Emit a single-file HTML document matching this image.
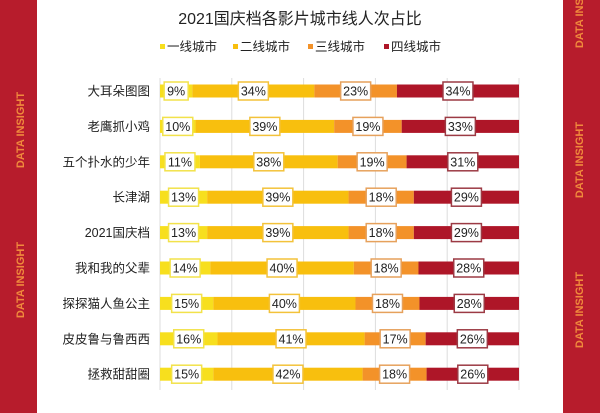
<!DOCTYPE html>
<html><head><meta charset="utf-8"><style>
body{margin:0;width:600px;height:413px;background:#fff;overflow:hidden;font-family:"Liberation Sans","Noto Sans CJK SC",sans-serif;}
</style></head><body>
<svg id="c" width="600" height="413" style="position:absolute;left:0;top:0">
<rect x="0" y="0" width="37" height="413" fill="#b71c2c"/>
<rect x="563" y="0" width="37" height="413" fill="#b71c2c"/>
<text transform="translate(24,130) rotate(-90)" fill="#f08a3c" font-size="11" font-weight="bold" text-anchor="middle">DATA INSIGHT</text>
<text transform="translate(24,280) rotate(-90)" fill="#f08a3c" font-size="11" font-weight="bold" text-anchor="middle">DATA INSIGHT</text>
<text transform="translate(583,10) rotate(-90)" fill="#f08a3c" font-size="11" font-weight="bold" text-anchor="middle">DATA INSIGHT</text>
<text transform="translate(583,160) rotate(-90)" fill="#f08a3c" font-size="11" font-weight="bold" text-anchor="middle">DATA INSIGHT</text>
<text transform="translate(583,310) rotate(-90)" fill="#f08a3c" font-size="11" font-weight="bold" text-anchor="middle">DATA INSIGHT</text>
<text x="300" y="24" font-size="16" text-anchor="middle" fill="#222">2021国庆档各影片城市线人次占比</text>
<g id="legend"></g>
<g id="grid"></g>
<g id="bars"></g>
</svg>
<script>
const categories=["大耳朵图图","老鹰抓小鸡","五个扑水的少年","长津湖","2021国庆档","我和我的父辈","探探猫人鱼公主","皮皮鲁与鲁西西","拯救甜甜圈"];
const series=["一线城市","二线城市","三线城市","四线城市"];
const tier1=[9,10,11,13,13,14,15,16,15];
const tier2=[34,39,38,39,39,40,40,41,42];
const tier3=[23,19,19,18,18,18,18,17,18];
const tier4=[34,33,31,29,29,28,28,26,26];
const ticks=[0,20,40,60,80,100];
const colors=["#f7df1e","#f8bf0e","#f39229","#ae1628"];
const borders=["#f2e24a","#f3c23a","#e6a15c","#9c3a44"];
const NS="http://www.w3.org/2000/svg";
const x0=160,x1=519,yTop=80,rowH=35.4,barH=13;
const xs=v=>x0+(x1-x0)*v/100;
const ys=i=>yTop+11+i*rowH;
function mk(t,a,p){const e=document.createElementNS(NS,t);for(const k in a)e.setAttribute(k,a[k]);p.appendChild(e);return e;}
const grid=document.getElementById('grid');
ticks.forEach(t=>{const l=mk('line',{x1:xs(t),x2:xs(t),y1:78,y2:390,stroke:'#ddd','stroke-width':1},grid);

});
const lg=document.getElementById('legend');
const lx=[160,233,308,384];
series.forEach((s,i)=>{const r=mk('rect',{x:lx[i],y:44,width:5,height:5,fill:colors[i]},lg);


const t=mk('text',{x:lx[i]+7,y:51,'font-size':12.5,fill:'#222'},lg);t.textContent=s;

});
const bars=document.getElementById('bars');
const data=[tier1,tier2,tier3,tier4];
categories.forEach((c,i)=>{
 const y=ys(i);
 const total=data.reduce((s,d)=>s+d[i],0);
 const lab=mk('text',{x:150,y:y+4.5,'font-size':12.5,'text-anchor':'end',fill:'#222'},bars);lab.textContent=c;
 
 
 let acc=0;
 data.forEach((d,j)=>{
  const v=d[i];const a=xs(acc*100/total),b=xs((acc+v)*100/total);
  const r=mk('rect',{x:a,y:y-barH/2,width:b-a,height:barH,fill:colors[j]},bars);
  
  
  acc+=v;
 });
 acc=0;
 data.forEach((d,j)=>{
  const v=d[i];const a=xs(acc*100/total),b=xs((acc+v)*100/total);
  const bw=v>=10?30:24;
  let cx=(a+b)/2; if(j===0) cx=Math.max(cx,a+2+bw/2);
  const bx=mk('rect',{x:cx-bw/2,y:y-9,width:bw,height:18,fill:'#fff',stroke:borders[j],'stroke-width':1.5},bars);
  
  
  const t=mk('text',{x:cx,y:y+4.5,'font-size':12.5,'text-anchor':'middle',fill:'#222'},bars);t.textContent=v+'%';
  
  
  acc+=v;
 });
});
</script>
</body></html>
